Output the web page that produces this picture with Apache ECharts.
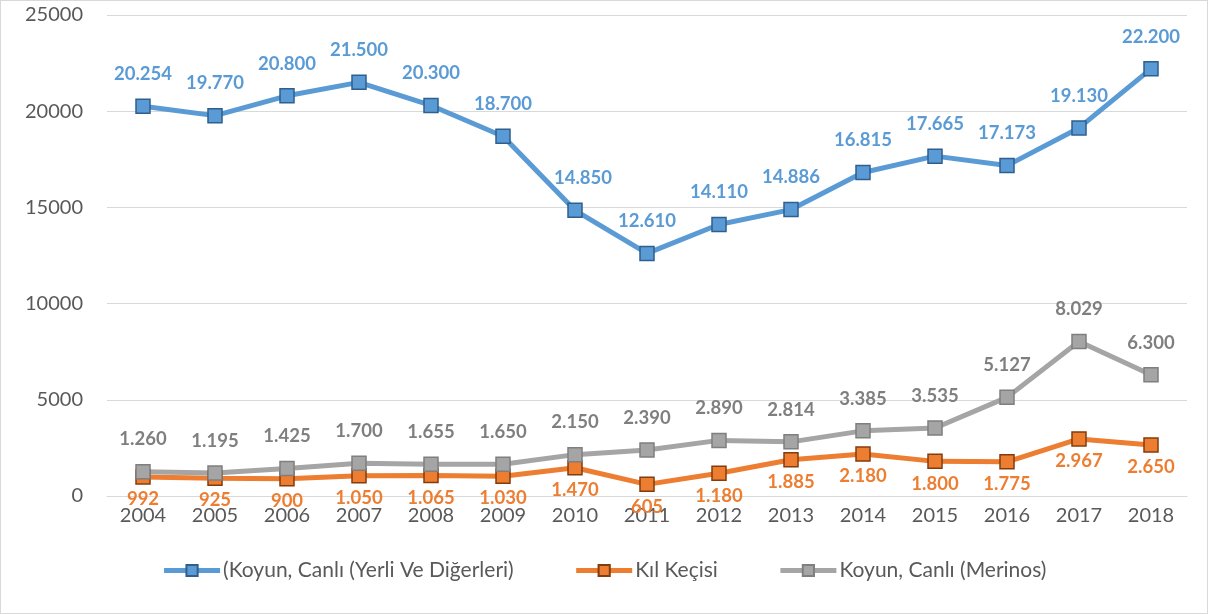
<!DOCTYPE html>
<html>
<head>
<meta charset="utf-8">
<script src="https://cdn.jsdelivr.net/npm/echarts@6/dist/echarts.min.js"></script>
<style>
  html, body { margin: 0; padding: 0; background: #fff; }
  #chart {
    width: 1206px;
    height: 612px;
    border: 1px solid #d9d9d9;
  }
</style>
</head>
<body>
<div id="chart"></div>
<script>
const years = ['2004', '2005', '2006', '2007', '2008', '2009', '2010', '2011', '2012', '2013', '2014', '2015', '2016', '2017', '2018'];
const yerli = [20254, 19770, 20800, 21500, 20300, 18700, 14850, 12610, 14110, 14886, 16815, 17665, 17173, 19130, 22200];
const kilKecisi = [992, 925, 900, 1050, 1065, 1030, 1470, 605, 1180, 1885, 2180, 1800, 1775, 2967, 2650];
const merinos = [1260, 1195, 1425, 1700, 1655, 1650, 2150, 2390, 2890, 2814, 3385, 3535, 5127, 8029, 6300];
const seriesNames = ['(Koyun, Canlı (Yerli Ve Diğerleri)', 'Kıl Keçisi', 'Koyun, Canlı (Merinos)'];

const font = 'Lato, "Open Sans", sans-serif';

function fmt(v) {
  return String(v).replace(/\B(?=(\d{3})+(?!\d))/g, '.');
}

function makeSeries(name, data, color, border, labelColor, pos, dist) {
  return {
    name: name,
    type: 'line',
    data: data,
    symbol: 'rect',
    symbolSize: 14,
    lineStyle: { color: color, width: 5 },
    itemStyle: { color: color, borderColor: border, borderWidth: 1.5 },
    label: {
      show: true,
      position: pos,
      distance: dist,
      color: labelColor,
      fontFamily: font,
      fontWeight: 'bold',
      fontSize: 18.5,
      formatter: p => fmt(p.value)
    },
    emphasis: { disabled: true },
    animation: false
  };
}

const blue = makeSeries(seriesNames[0], yerli, '#5b9bd5', '#2f5f8f', '#5b9bd5', 'top', 15);
blue.data = yerli.map((v, i) => i === 6 ? { value: v, label: { offset: [8, 0] } } : v);

const chart = echarts.init(document.getElementById('chart'));
chart.setOption({
  backgroundColor: '#fff',
  textStyle: { fontFamily: font },
  grid: { left: 106, right: 20, top: 14, bottom: 117, containLabel: false },
  legend: {
    bottom: 27,
    left: 'center',
    itemWidth: 56,
    itemHeight: 14,
    itemGap: 60,
    lineStyle: { width: 5 },
    textStyle: { color: '#595959', fontSize: 21, fontFamily: font, padding: [0, 0, 0, -2] },
    data: seriesNames
  },
  xAxis: {
    type: 'category',
    data: years,
    axisLine: { lineStyle: { color: '#d9d9d9' } },
    axisTick: { show: false },
    axisLabel: { color: '#595959', fontSize: 20, margin: 10 }
  },
  yAxis: {
    type: 'value',
    min: 0,
    max: 25000,
    interval: 5000,
    axisLine: { show: false },
    axisTick: { show: false },
    splitLine: { lineStyle: { color: '#d9d9d9', width: 1 } },
    axisLabel: { color: '#595959', fontSize: 20, margin: 24, formatter: v => String(v) }
  },
  series: [
    blue,
    makeSeries(seriesNames[1], kilKecisi, '#ed7d31', '#843c0c', '#ed7d31', 'bottom', 5),
    makeSeries(seriesNames[2], merinos, '#a5a5a5', '#7f7f7f', '#7f7f7f', 'top', 15)
  ]
});
</script>
</body>
</html>
